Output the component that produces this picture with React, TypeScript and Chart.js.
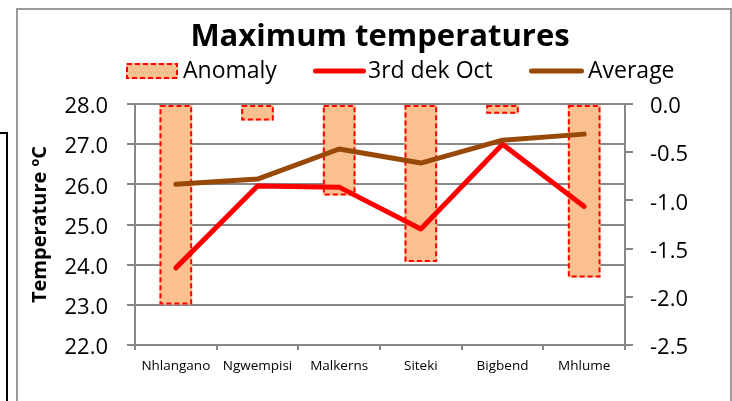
import React, { useEffect, useRef } from "react";
import { Chart, registerables } from "chart.js";

Chart.register(...registerables);

const stations = ["Nhlangano", "Ngwempisi", "Malkerns", "Siteki", "Bigbend", "Mhlume"];
const anomaly = [-2.08, -0.17, -0.95, -1.64, -0.1, -1.8];
const dekOct = [23.92, 25.96, 25.93, 24.89, 27.0, 25.45];
const average = [26.0, 26.13, 26.88, 26.53, 27.1, 27.25];
const legendLabels = ["Anomaly", "3rd dek Oct", "Average"];

const FONT = "'Open Sans', 'Noto Sans', sans-serif";
const GRID = "#878787";
const BAR_FILL = "#FAC090";
const BAR_BORDER = "#FF0000";
const RED = "#FF0000";
const BROWN = "#984807";

const dashedBars = {
  id: "dashedBars",
  afterDatasetDraw(chart: any, args: any) {
    if (args.index !== 0) return;
    const ctx = chart.ctx;
    ctx.save();
    ctx.strokeStyle = BAR_BORDER;
    ctx.lineWidth = 2;
    ctx.setLineDash([5, 3]);
    args.meta.data.forEach((el: any) => {
      const { x, y, base, width } = el.getProps(["x", "y", "base", "width"], true);
      const top = Math.min(y, base);
      const h = Math.abs(base - y);
      ctx.strokeRect(x - width / 2 + 1, top + 1, width - 2, h - 2);
    });
    ctx.restore();
  },
};

const customLegend = {
  id: "customLegend",
  afterDraw(chart: any) {
    const { ctx, chartArea } = chart;
    const L = chartArea.left;
    const cy = chartArea.top - 33;
    const base = chartArea.top - 26;
    ctx.save();
    ctx.fillStyle = BAR_FILL;
    ctx.fillRect(L - 9, cy - 8, 52, 16);
    ctx.strokeStyle = BAR_BORDER;
    ctx.lineWidth = 2;
    ctx.setLineDash([5, 3]);
    ctx.strokeRect(L - 8, cy - 7, 50, 14);
    ctx.setLineDash([]);
    ctx.lineCap = "round";
    ctx.lineWidth = 5;
    ctx.strokeStyle = RED;
    ctx.beginPath();
    ctx.moveTo(L + 180.5, cy);
    ctx.lineTo(L + 228.5, cy);
    ctx.stroke();
    ctx.strokeStyle = BROWN;
    ctx.beginPath();
    ctx.moveTo(L + 396.5, cy);
    ctx.lineTo(L + 446.5, cy);
    ctx.stroke();
    ctx.fillStyle = "#000";
    ctx.font = `23px ${FONT}`;
    ctx.textBaseline = "alphabetic";
    ctx.textAlign = "left";
    ctx.fillText(legendLabels[0], L + 48, base);
    ctx.fillText(legendLabels[1], L + 233, base);
    ctx.fillText(legendLabels[2], L + 453, base);
    ctx.restore();
  },
};

export default function App() {
  const ref = useRef<HTMLCanvasElement | null>(null);

  useEffect(() => {
    if (!ref.current) return;
    const chart = new Chart(ref.current, {
      type: "bar",
      data: {
        labels: stations,
        datasets: [
          {
            type: "bar",
            label: legendLabels[0],
            data: anomaly,
            yAxisID: "y1",
            backgroundColor: BAR_FILL,
            borderWidth: 0,
            barPercentage: 0.4,
            categoryPercentage: 1,
            order: 2,
          },
          {
            type: "line",
            label: legendLabels[1],
            data: dekOct,
            yAxisID: "y",
            borderColor: RED,
            backgroundColor: RED,
            borderWidth: 5,
            borderCapStyle: "round",
            borderJoinStyle: "round",
            pointRadius: 0,
            tension: 0,
            order: 1,
          },
          {
            type: "line",
            label: legendLabels[2],
            data: average,
            yAxisID: "y",
            borderColor: BROWN,
            backgroundColor: BROWN,
            borderWidth: 5,
            borderCapStyle: "round",
            borderJoinStyle: "round",
            pointRadius: 0,
            tension: 0,
            order: 0,
          },
        ],
      },
      options: {
        responsive: false,
        animation: false,
        layout: { padding: { left: 20, right: 27, top: 0, bottom: 16 } },
        plugins: {
          legend: { display: false },
          tooltip: { enabled: false },
          title: {
            display: true,
            text: "Maximum temperatures",
            fullSize: false,
            color: "#000",
            font: { family: FONT, size: 31, weight: "bold" },
            padding: { top: 19, bottom: 47.8 },
          },
        },
        scales: {
          x: {
            offset: true,
            grid: {
              offset: true,
              drawOnChartArea: false,
              drawTicks: true,
              tickLength: 5,
              color: GRID,
              lineWidth: 2,
            },
            border: { display: true, color: GRID, width: 2 },
            ticks: { color: "#000", font: { family: FONT, size: 13.5 }, padding: 8, maxRotation: 0 },
            afterFit: (s: any) => {
              s.height = 40;
            },
          },
          y: {
            position: "left",
            min: 22,
            max: 28,
            ticks: {
              stepSize: 1,
              color: "#000",
              font: { family: FONT, size: 22 },
              padding: 19,
              labelOffset: 3,
              callback: (v: any) => Number(v).toFixed(1),
            },
            grid: { color: GRID, lineWidth: 2, tickLength: 8, drawTicks: true },
            border: { display: true, color: GRID, width: 2 },
            title: {
              display: true,
              text: "Temperature ºC",
              color: "#000",
              font: { family: FONT, size: 20, weight: "bold" },
              padding: { top: 8, bottom: 0 },
            },
            afterFit: (s: any) => {
              s.width = 115;
            },
          },
          y1: {
            position: "right",
            min: -2.5,
            max: 0,
            ticks: {
              stepSize: 0.5,
              color: "#000",
              font: { family: FONT, size: 22 },
              padding: 17,
              labelOffset: 3,
              callback: (v: any) => Number(v).toFixed(1),
            },
            grid: { drawOnChartArea: false, color: GRID, lineWidth: 2, tickLength: 8, drawTicks: true },
            border: { display: true, color: GRID, width: 2 },
            afterFit: (s: any) => {
              s.width = 80;
            },
          },
        },
      },
      plugins: [dashedBars, customLegend],
    });
    return () => chart.destroy();
  }, []);

  return (
    <div style={{ position: "absolute", left: 0, top: 0, width: 732, height: 401, overflow: "hidden", background: "#fff" }}>
      <div
        style={{
          position: "absolute",
          left: -12,
          top: 132,
          width: 16,
          height: 320,
          border: "2px solid #000",
        }}
      />
      <div
        style={{
          position: "absolute",
          left: 16,
          top: 8,
          width: 712,
          height: 420,
          border: "2px solid #9a9a9a",
        }}
      />
      <canvas ref={ref} width={732} height={401} style={{ position: "absolute", left: 0, top: 0 }} />
    </div>
  );
}
